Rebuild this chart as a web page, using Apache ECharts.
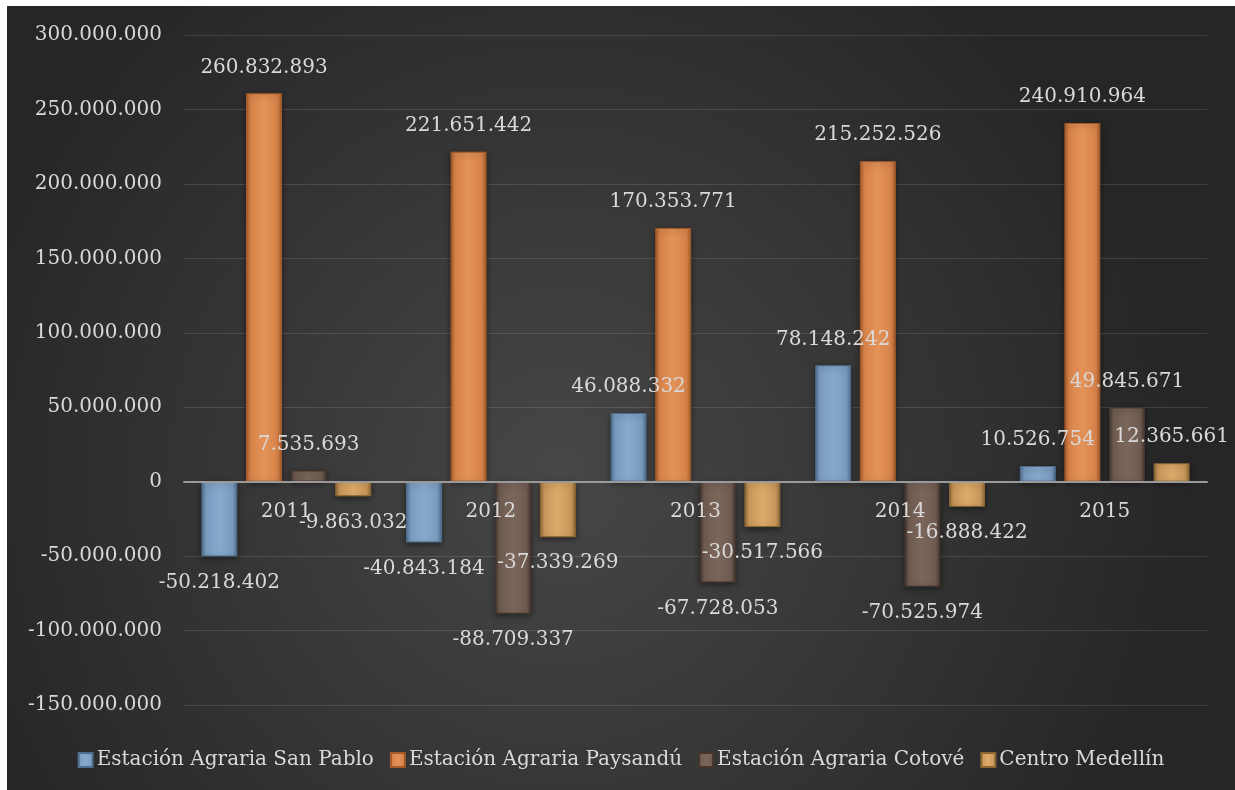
<!DOCTYPE html>
<html lang="es">
<head>
    <meta charset="UTF-8">
    <title>Estaciones Agrarias 2011-2015</title>
    <script src="https://cdn.jsdelivr.net/npm/echarts@6/dist/echarts.min.js"></script>
    <style>
        body { margin: 0; background: #ffffff; }
        #chart { position: absolute; left: 7px; top: 6px; width: 1228px; height: 784px; }
    </style>
</head>
<body>
<div id="chart"></div>
<script>
    var years = ['2011', '2012', '2013', '2014', '2015'];
    var seriesNames = ['Estación Agraria San Pablo', 'Estación Agraria Paysandú', 'Estación Agraria Cotové', 'Centro Medellín'];
    var sanPablo = [-50218402, -40843184, 46088332, 78148242, 10526754];
    var paysandu = [260832893, 221651442, 170353771, 215252526, 240910964];
    var cotove = [7535693, -88709337, -67728053, -70525974, 49845671];
    var medellin = [-9863032, -37339269, -30517566, -16888422, 12365661];

    var yMin = -150000000, yMax = 300000000;
    var gridTop = 29, gridBottom = 85, chartHeight = 784;

    // bevel look: dark edge, light middle
    var palette = [
        ['#4e6d8c', '#86a9cc', '#7a9cc0', '#4e6d8c'],
        ['#a35a28', '#e39258', '#d8834a', '#a35a28'],
        ['#44362e', '#7a665a', '#6f5b50', '#44362e'],
        ['#8c6735', '#dcaa6a', '#c9975a', '#8c6735']
    ];

    function fmt(v) {
        return String(v).replace(/\B(?=(\d{3})+(?!\d))/g, '.');
    }

    function barFill(c) {
        return new echarts.graphic.LinearGradient(0, 0, 1, 0, [
            { offset: 0, color: c[0] },
            { offset: 0.12, color: c[2] },
            { offset: 0.5, color: c[1] },
            { offset: 0.88, color: c[2] },
            { offset: 1, color: c[3] }
        ]);
    }

    function makeSeries(name, values, idx) {
        return {
            name: name,
            type: 'bar',
            barGap: '24%',
            barCategoryGap: '17%',
            itemStyle: {
                color: barFill(palette[idx]),
                borderColor: palette[idx][3],
                borderWidth: 1,
                shadowBlur: 6,
                shadowColor: 'rgba(0,0,0,0.45)',
                shadowOffsetY: 2
            },
            label: {
                show: true,
                distance: 16,
                color: '#d9d9d9',
                fontFamily: 'DejaVu Serif',
                fontSize: 20,
                lineHeight: 20,
                formatter: function (p) { return fmt(p.value); }
            },
            data: values.map(function (v) {
                return { value: v, label: { position: v >= 0 ? 'top' : 'bottom' } };
            })
        };
    }

    // move the category axis up to the zero line
    var plotHeight = chartHeight - gridTop - gridBottom;
    var zeroOffset = -plotHeight * (0 - yMin) / (yMax - yMin);

    var myChart = echarts.init(document.getElementById('chart'));
    var option = {
        backgroundColor: new echarts.graphic.RadialGradient(0.45, 0.6, 0.8, [
            { offset: 0, color: '#474747' },
            { offset: 1, color: '#262626' }
        ]),
        animation: false,
        textStyle: { fontFamily: 'DejaVu Serif' },
        legend: {
            left: 'center',
            top: 739,
            itemWidth: 14,
            itemHeight: 14,
            itemGap: 16,
            icon: 'rect',
            textStyle: { color: '#d9d9d9', fontSize: 20, fontFamily: 'DejaVu Serif', padding: [0, 0, 0, -1] },
            data: seriesNames
        },
        grid: { left: 177, right: 28, top: gridTop, bottom: gridBottom, containLabel: false },
        xAxis: {
            type: 'category',
            data: years,
            position: 'bottom',
            offset: zeroOffset,
            z: 5,
            axisLine: { onZero: false, lineStyle: { color: '#9a9a9a', width: 2 } },
            axisTick: { show: false },
            axisLabel: { color: '#d9d9d9', fontSize: 20, margin: 20, fontFamily: 'DejaVu Serif' }
        },
        yAxis: {
            type: 'value',
            min: yMin,
            max: yMax,
            interval: 50000000,
            axisLine: { show: false },
            axisTick: { show: false },
            splitLine: { lineStyle: { color: 'rgba(255,255,255,0.12)', width: 1 } },
            axisLabel: {
                color: '#d9d9d9',
                fontSize: 20,
                margin: 22,
                fontFamily: 'DejaVu Serif',
                formatter: fmt
            }
        },
        series: [
            makeSeries(seriesNames[0], sanPablo, 0),
            makeSeries(seriesNames[1], paysandu, 1),
            makeSeries(seriesNames[2], cotove, 2),
            makeSeries(seriesNames[3], medellin, 3)
        ]
    };
    myChart.setOption(option);
</script>
</body>
</html>
